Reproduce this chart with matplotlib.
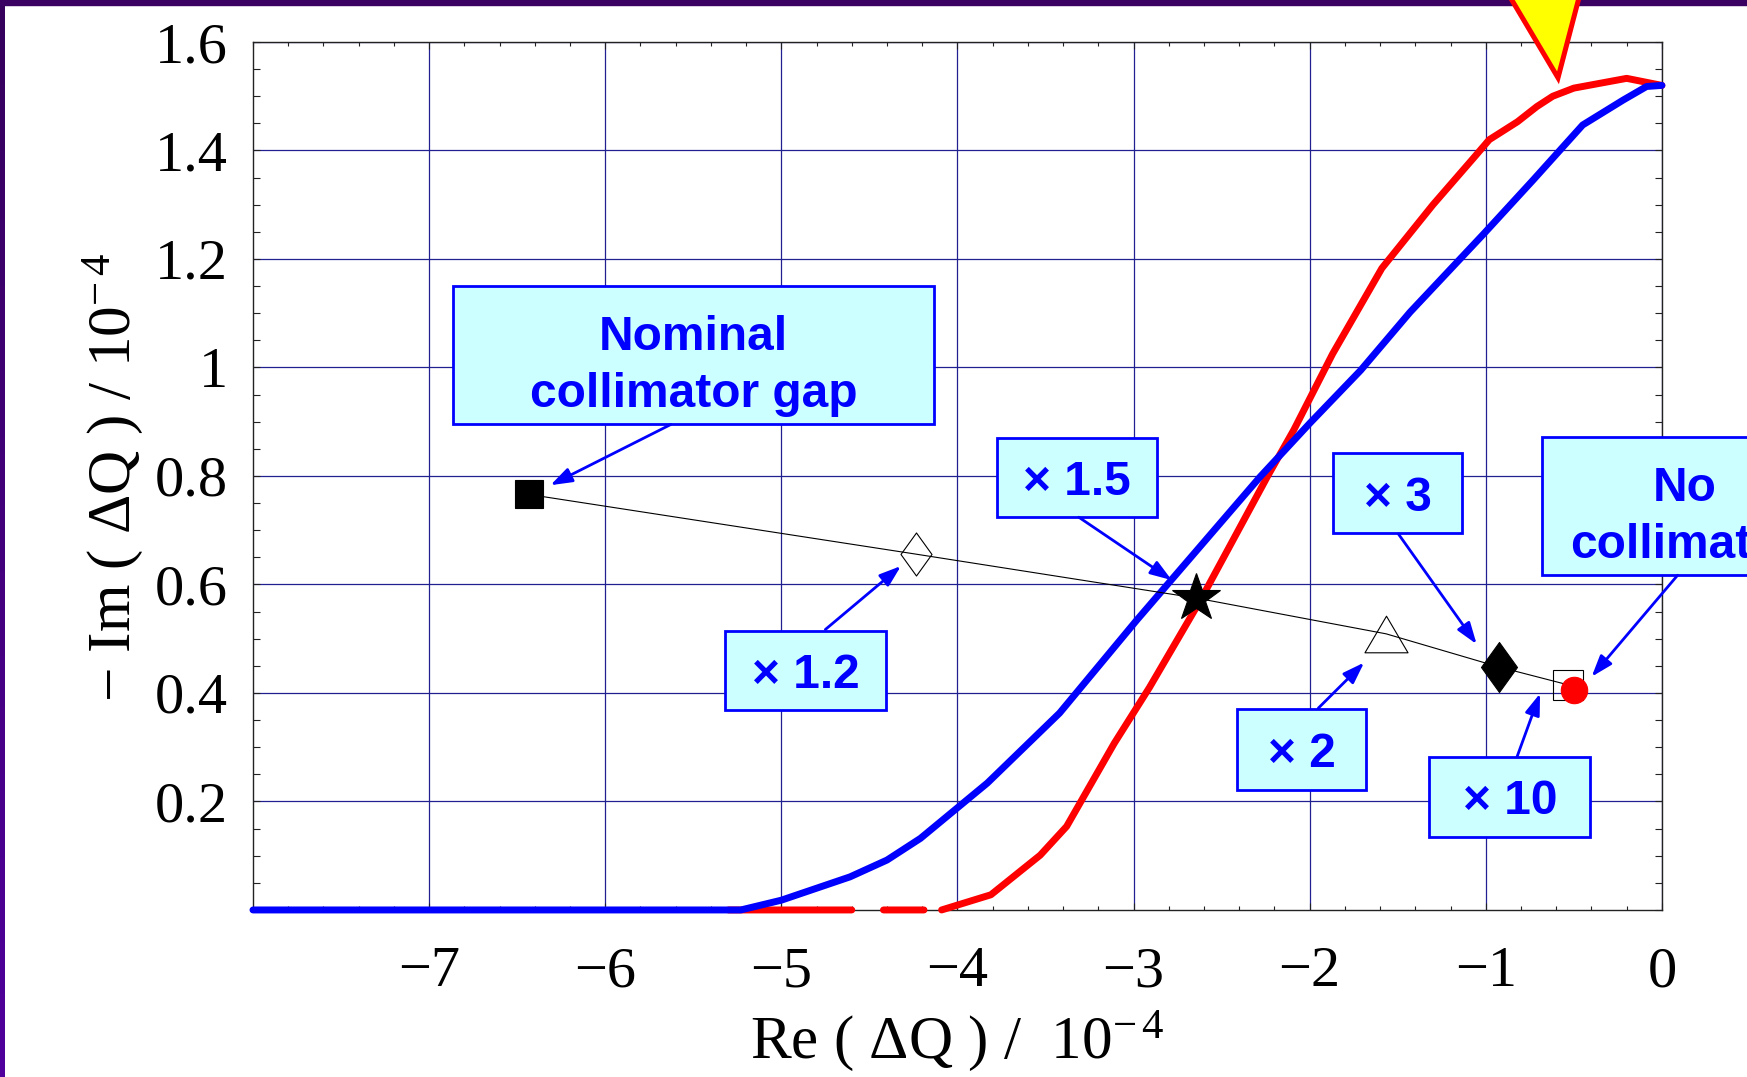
import matplotlib
matplotlib.use("Agg")
import matplotlib.pyplot as plt
import numpy as np
from matplotlib.patches import Rectangle, Polygon
from matplotlib.path import Path
from matplotlib.ticker import FixedLocator, MultipleLocator

# --- data (Re and -Im of the tune shift, in 1e-4) ---
blue_re = [-8.0, -5.23, -5.0, -4.61, -4.40, -4.21, -3.83, -3.42, -2.98, -2.28,
           -2.0, -1.71, -1.43, -1.01, -0.73, -0.45, -0.22, -0.087, 0.0]
blue_im = [0.0, 0.0, 0.018, 0.061, 0.092, 0.132, 0.234, 0.363, 0.535, 0.799,
           0.897, 0.995, 1.102, 1.247, 1.346, 1.447, 1.493, 1.518, 1.52]

# red curve: dashed stretch on the axis (NaN = gap), then the rising branch
red_re = [-5.3, -4.60, np.nan, -4.42, -4.19, np.nan,
          -4.09, -3.81, -3.53, -3.38, -3.11, -2.91, -2.62, -2.24, -2.09, -1.87,
          -1.59, -1.30, -1.07, -0.98, -0.82, -0.71, -0.62, -0.50, -0.20, 0.0]
red_im = [0.0, 0.0, np.nan, 0.0, 0.0, np.nan,
          0.0, 0.028, 0.101, 0.154, 0.307, 0.41, 0.571, 0.799, 0.885, 1.025,
          1.183, 1.30, 1.386, 1.42, 1.453, 1.481, 1.50, 1.515, 1.533, 1.52]

# collimator gap scan: nominal, x1.2, x1.5, x2, x3, x10, no collimator
gap_re = [-6.434, -4.237, -2.645, -1.566, -0.926, -0.533, -0.502]
gap_im = [0.766, 0.656, 0.575, 0.509, 0.448, 0.415, 0.405]

x_ticks = [-7, -6, -5, -4, -3, -2, -1, 0]
x_ticklabels = ["\u22127", "\u22126", "\u22125", "\u22124", "\u22123", "\u22122", "\u22121", "0"]
y_ticks = [0.2, 0.4, 0.6, 0.8, 1.0, 1.2, 1.4, 1.6]
y_ticklabels = ["0.2", "0.4", "0.6", "0.8", "1", "1.2", "1.4", "1.6"]

callout_texts = ["Nominal\ncollimator gap", "\u00d7 1.2", "\u00d7 1.5", "\u00d7 2",
                 "\u00d7 3", "\u00d7 10", "No\ncollimator"]


def main():
    plt.rcParams["font.family"] = ["Liberation Serif", "DejaVu Serif"]
    plt.rcParams["mathtext.fontset"] = "custom"
    plt.rcParams["mathtext.rm"] = "Liberation Serif"
    plt.rcParams["mathtext.it"] = "Liberation Serif:italic"
    plt.rcParams["mathtext.bf"] = "Liberation Serif:bold"

    fig = plt.figure(figsize=(17.47, 10.77), dpi=100)
    ax = fig.add_axes([0.1448, 0.1551, 0.8065, 0.8059])

    # purple slide border (top band + shaded left band)
    fig.patches.append(Rectangle((0, 1 - 5 / 1077), 1, 5 / 1077, transform=fig.transFigure,
                                 color="#3a0062", zorder=-1))
    bax = fig.add_axes([0, 0, 5 / 1747, 1], zorder=-1)
    bax.imshow(np.linspace(0, 1, 64).reshape(-1, 1), aspect="auto",
               cmap=matplotlib.colors.LinearSegmentedColormap.from_list("b", ["#36005c", "#50009c"]))
    bax.axis("off")

    ax.set_xlim(-8, 0)
    ax.set_ylim(0, 1.6)

    ax.plot(red_re, red_im, color="#ff0000", lw=5, solid_capstyle="round",
            solid_joinstyle="round", clip_on=False, zorder=3)
    ax.plot(blue_re, blue_im, color="#0000ff", lw=5, solid_capstyle="round",
            solid_joinstyle="round", clip_on=False, zorder=3.5)

    # connecting line through the gap scan
    ax.plot(gap_re, gap_im, color="black", lw=0.8, zorder=4)

    thin_diamond = Path([(0, 1), (0.72, 0), (0, -1), (-0.72, 0), (0, 1)],
                        [Path.MOVETO, Path.LINETO, Path.LINETO, Path.LINETO, Path.CLOSEPOLY])
    fat_triangle = Path([(0, 0.85), (1, -0.85), (-1, -0.85), (0, 0.85)],
                        [Path.MOVETO, Path.LINETO, Path.LINETO, Path.CLOSEPOLY])
    styles = [
        dict(marker="s", ms=20, mfc="black", mec="black"),
        dict(marker=thin_diamond, ms=31, mfc="none", mec="black"),
        dict(marker="*", ms=36, mfc="black", mec="black"),
        dict(marker=fat_triangle, ms=31, mfc="none", mec="black"),
        dict(marker=thin_diamond, ms=36, mfc="black", mec="black"),
        dict(marker="s", ms=21, mfc="none", mec="black"),
        dict(marker="o", ms=19, mfc="#ff0000", mec="#ff0000"),
    ]
    for gx, gy, st in zip(gap_re, gap_im, styles):
        ax.plot([gx], [gy], ls="none", mew=0.8, zorder=5, clip_on=False, **st)

    # callout boxes: (x0, x1, y0, y1), arrow start, arrow tip
    boxes = [(-6.862, -4.132, 0.896, 1.150), (-5.318, -4.407, 0.369, 0.515),
             (-3.774, -2.866, 0.724, 0.870), (-2.410, -1.680, 0.221, 0.370),
             (-1.865, -1.137, 0.694, 0.842), (-1.320, -0.408, 0.135, 0.282),
             (-0.681, 0.936, 0.617, 0.871)]
    starts = [(-5.627, 0.895), (-4.750, 0.517), (-3.311, 0.724), (-1.951, 0.372),
              (-1.496, 0.693), (-0.823, 0.282), (0.089, 0.617)]
    tips = [(-6.311, 0.783), (-4.321, 0.634), (-2.783, 0.608), (-1.691, 0.456),
            (-1.052, 0.490), (-0.692, 0.399), (-0.399, 0.430)]
    for txt, (x0, x1, y0, y1), st, tp in zip(callout_texts, boxes, starts, tips):
        ax.add_patch(Rectangle((x0, y0), x1 - x0, y1 - y0, facecolor="#ccffff",
                               edgecolor="#0000ff", lw=2, zorder=6, clip_on=False))
        ax.text((x0 + x1) / 2, (y0 + y1) / 2, txt, ha="center", va="center_baseline",
                family="Liberation Sans", weight="bold", fontsize=34.5, color="#0000ff",
                zorder=7, clip_on=False, linespacing=1.33)
        ax.annotate("", xy=tp, xytext=st, annotation_clip=False,
                    arrowprops=dict(arrowstyle="-|>,head_length=1.3,head_width=0.45",
                                    color="#0000ff", lw=2, shrinkA=0, shrinkB=0,
                                    mutation_scale=10), zorder=6)

    # yellow pointer at the top
    ptr_re = [-0.93, -0.59, -0.44]
    ptr_im = [1.72, 1.534, 1.72]
    ax.add_patch(Polygon(list(zip(ptr_re, ptr_im)), closed=True, facecolor="#ffff00",
                         edgecolor="#ff0000", lw=3.6, joinstyle="miter", zorder=8, clip_on=False))

    # axes styling
    ax.xaxis.set_major_locator(FixedLocator(x_ticks))
    ax.set_xticklabels(x_ticklabels)
    ax.yaxis.set_major_locator(FixedLocator(y_ticks))
    ax.set_yticklabels(y_ticklabels)
    ax.xaxis.set_minor_locator(MultipleLocator(0.2))
    ax.yaxis.set_minor_locator(MultipleLocator(0.05))
    ax.tick_params(which="both", direction="in", top=True, right=True, width=0.8, color="#222222")
    ax.tick_params(which="major", length=5)
    ax.tick_params(axis="x", which="minor", length=3)
    ax.tick_params(axis="y", which="minor", length=5)
    ax.tick_params(axis="x", which="major", labelsize=42, pad=26)
    ax.tick_params(axis="y", which="major", labelsize=42, pad=18)
    ax.set_axisbelow(True)
    ax.grid(True, which="major", color="#202090", lw=0.9)
    for sp in ax.spines.values():
        sp.set_linewidth(1.0)
        sp.set_color("#222222")

    ax.text(0.5, -0.1705, "Re ( \u0394Q ) /  10$^{\u2212\\,4}$", transform=ax.transAxes,
            ha="center", va="baseline", fontsize=44)
    ax.text(-0.0873, 0.4977, "\u2212 Im ( \u0394Q ) / 10$^{\u2212\\,4}$", transform=ax.transAxes,
            ha="center", va="baseline", rotation=90, rotation_mode="anchor", fontsize=44)

    plt.savefig("out.png", dpi=100)


if __name__ == "__main__":
    main()
